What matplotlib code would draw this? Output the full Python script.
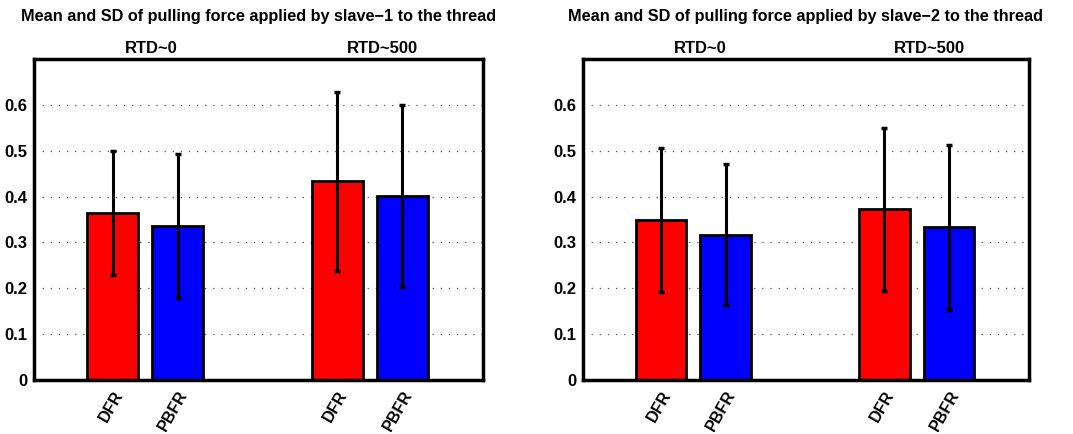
import matplotlib
matplotlib.use("Agg")
import matplotlib.pyplot as plt
import numpy as np

plt.rcParams['font.family'] = ['Liberation Sans', 'DejaVu Sans']
plt.rcParams['font.weight'] = 'bold'

# data
methods = ["DFR", "PBFR", "DFR", "PBFR"]
groups = ["RTD~0", "RTD~500"]
bar_colors = ["#ff0000", "#0000ff", "#ff0000", "#0000ff"]

slave1_mean = [0.364, 0.335, 0.433, 0.401]
slave1_sd = [0.135, 0.157, 0.196, 0.199]

slave2_mean = [0.349, 0.317, 0.372, 0.333]
slave2_sd = [0.158, 0.154, 0.178, 0.180]

titles = ["Mean and SD of pulling force applied by slave\u22121 to the thread",
          "Mean and SD of pulling force applied by slave\u22122 to the thread"]

x = np.array([1.0, 2.0, 4.46, 5.46])
group_x = [1.6, 5.15]

fig = plt.figure(figsize=(10.73, 4.34), dpi=100)
ax1 = fig.add_axes([0.0317, 0.1244, 0.4185, 0.7396])
ax2 = fig.add_axes([0.5433, 0.1244, 0.4157, 0.7396])

for ax, means, sds, title in [(ax1, slave1_mean, slave1_sd, titles[0]),
                              (ax2, slave2_mean, slave2_sd, titles[1])]:
    ax.set_axisbelow(True)
    ax.yaxis.grid(True, linestyle=(0, (1, 5.5)), color='#555555', linewidth=0.9)
    ax.bar(x, means, width=0.785, color=bar_colors, edgecolor='black', linewidth=2, zorder=2)
    ax.errorbar(x, means, yerr=sds, fmt='none', ecolor='black', elinewidth=2.2,
                capsize=2, capthick=2.5, zorder=3)
    ax.set_xlim(-0.21, 6.7)
    ax.set_ylim(0, 0.7)
    ax.set_yticks([0, 0.1, 0.2, 0.3, 0.4, 0.5, 0.6])
    ax.set_yticklabels(["0", "0.1", "0.2", "0.3", "0.4", "0.5", "0.6"], fontsize=12, fontweight='bold')
    ax.set_xticks(x)
    ax.set_xticklabels(methods, rotation=60, ha='right', va='top', rotation_mode='anchor',
                       fontsize=11.5, fontweight='bold')
    ax.tick_params(axis='x', length=0, pad=6)
    ax.tick_params(axis='y', length=0, pad=5)
    for sp in ax.spines.values():
        sp.set_linewidth(2.5)
    for gx, g in zip(group_x, groups):
        ax.text(gx, 1.033, g, transform=ax.get_xaxis_transform(), ha='center', va='center',
                fontsize=12, fontweight='bold')
    ax.text(0.5, 1.131, title, transform=ax.transAxes, ha='center', va='center',
            fontsize=11.7, fontweight='bold')

fig.savefig("out.png", dpi=100)
